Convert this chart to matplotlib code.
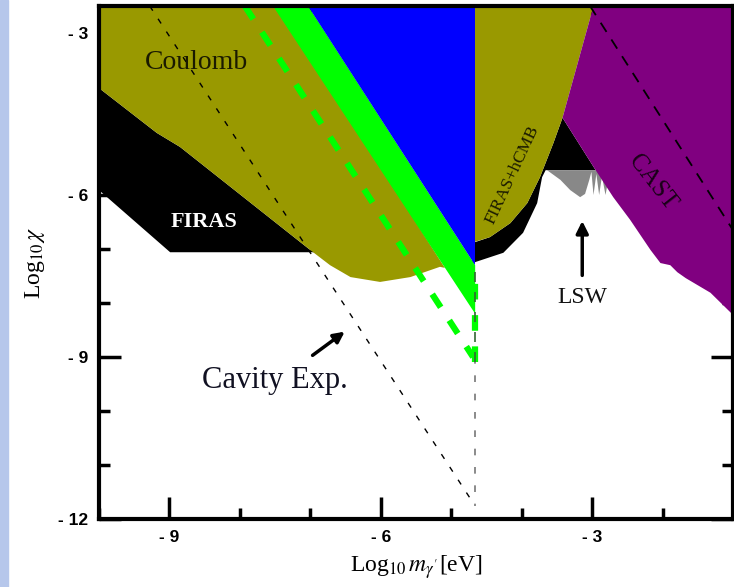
import matplotlib
matplotlib.use("Agg")
import matplotlib.pyplot as plt
from matplotlib.patches import Polygon, Rectangle

plt.rcParams['font.family'] = ['Liberation Serif', 'DejaVu Serif']
plt.rcParams['mathtext.fontset'] = 'stix'

# ---- data (log10 m [eV], log10 chi) ----
coulomb_x = [-10, -10, -9.18, -8.85, -7.00, -6.72, -6.43, -6.01, -5.58, -5.16, -5.09, -7.45]
coulomb_y = [-2.5, -4.02, -4.85, -5.11, -7.02, -7.30, -7.52, -7.61, -7.52, -7.33, -7.35, -2.5]

firas_x = [-10, -9.18, -8.85, -7.00, -6.6, -8.99, -10]
firas_y = [-4.02, -4.85, -5.11, -7.02, -7.06, -7.06, -5.91]

green_x = [-7.53, -7.03, -4.66, -4.66]
green_y = [-2.5, -2.5, -7.30, -8.20]

blue_x = [-7.03, -4.66, -4.66]
blue_y = [-2.5, -2.5, -7.30]

hcmb_x = [-4.72, -2.98, -3.42, -3.55, -3.74, -3.92, -4.16, -4.45, -4.72]
hcmb_y = [-2.5, -2.5, -4.57, -5.04, -5.67, -6.15, -6.52, -6.78, -6.89]

firas2_x = [-4.70, -4.45, -4.16, -3.92, -3.74, -3.55, -3.42, -2.95, -3.66, -3.71, -3.78, -3.98, -4.26, -4.70]
firas2_y = [-6.89, -6.78, -6.52, -6.15, -5.67, -5.04, -4.57, -5.54, -5.54, -5.67, -6.15, -6.70, -7.07, -7.26]

lsw_x = [-3.64, -3.45, -3.31, -3.17, -3.10, -3.04, -3.01, -2.98, -2.94, -2.90, -2.86, -2.81, -2.77, -2.74]
lsw_y = [-5.54, -5.72, -5.91, -6.04, -5.98, -5.72, -5.57, -6.00, -5.61, -6.00, -5.65, -6.00, -5.72, -5.54]

cast_x = [-2.98, -1.0, -1.0, -1.32, -1.67, -1.79, -1.89, -2.03, -2.17, -2.46, -2.70, -2.95, -3.42]
cast_y = [-2.5, -2.5, -8.22, -7.81, -7.54, -7.43, -7.30, -7.26, -7.02, -6.46, -6.04, -5.54, -4.57]

cast_dash_x = [-3.03, -1.0]
cast_dash_y = [-2.5, -6.65]

cavity_x = [-9.28, -4.69]
cavity_y = [-2.5, -11.7]
cavity_v_x = [-4.66, -4.66]
cavity_v_y = [-9.0, -11.75]

gdash_x = [-7.93, -4.69]
gdash_y = [-2.5, -9.0]
gdash_v_x = [-4.66, -4.66]
gdash_v_y = [-9.1, -7.4]

xticks_major = [-9, -6, -3]
yticks_major = [-12, -9, -6, -3]

fig = plt.figure(figsize=(7.34, 5.87), dpi=100)
fig.patches.append(Rectangle((0, 0), 8 / 734, 1, transform=fig.transFigure,
                             color='#b6c7eb', zorder=0))
ax = fig.add_axes([99 / 734, 68 / 587, 634 / 734, 513 / 587])
ax.set_xlim(-10, -1)
ax.set_ylim(-12, -2.5)


def poly(xs, ys, c, z):
    ax.add_patch(Polygon(list(zip(xs, ys)), closed=True, facecolor=c,
                         edgecolor='none', zorder=z))


poly(firas_x, firas_y, 'black', 1)
poly(coulomb_x, coulomb_y, '#999900', 2)
poly(green_x, green_y, '#00ff00', 3)
poly(blue_x, blue_y, '#0000ff', 3)
poly(firas2_x, firas2_y, 'black', 1)
poly(hcmb_x, hcmb_y, '#999900', 2)
poly(lsw_x, lsw_y, '#888888', 2)
poly(cast_x, cast_y, '#800080', 3)

ax.plot(cast_dash_x, cast_dash_y, color='black', lw=1.3, dashes=(6, 5), zorder=4)
ax.plot(cavity_x, cavity_y, color='black', lw=1.0, dashes=(4, 7), zorder=4)
ax.plot(cavity_v_x, cavity_v_y, color='#777777', lw=1.2, dashes=(4, 7), zorder=4)
ax.plot(gdash_x, gdash_y, color='#00ff00', lw=4.5, dashes=(2.5, 2.5), zorder=4)
ax.plot(gdash_v_x, gdash_v_y, color='#00ff00', lw=4.5, dashes=(2.5, 2.5), zorder=4)
ax.plot(gdash_v_x, gdash_v_y, color='#336633', lw=1.2, dashes=(6, 6), zorder=4)

ax.text(-8.61, -3.55, 'Coulomb', fontsize=20, color='#1a1a00', ha='center', va='center', zorder=5)
ax.text(-8.51, -6.5, 'FIRAS', fontsize=16, color='white', weight='bold', ha='center', va='center', zorder=5)
ax.text(-4.13, -5.63, 'FIRAS+hCMB', fontsize=12.5, color='#1a1a00', rotation=65,
        ha='center', va='center', zorder=5)
ax.text(-2.14, -5.76, 'CAST', fontsize=18, color='#1a0018', rotation=-52,
        ha='center', va='center', zorder=5)
ax.text(-3.14, -7.89, 'LSW', fontsize=17, color='#111111', ha='center', va='center', zorder=5)
ax.annotate('', xy=(-3.14, -6.43), xytext=(-3.14, -7.54),
            arrowprops=dict(arrowstyle='-|>', color='black', lw=2.5, mutation_scale=18), zorder=5)
ax.text(-7.5, -9.43, 'Cavity Exp.', fontsize=22, color='#111122', ha='center', va='center', zorder=5)
ax.annotate('', xy=(-6.48, -8.5), xytext=(-7.0, -9.0),
            arrowprops=dict(arrowstyle='-|>', color='black', lw=2.5, mutation_scale=16), zorder=5)

ax.set_xticks(xticks_major)
ax.set_yticks(yticks_major)
ax.set_xticks(range(-10, 0), minor=True)
ax.set_yticks(range(-12, -2), minor=True)
ax.set_xticklabels(['- %d' % abs(v) for v in xticks_major])
ax.set_yticklabels(['- %d' % abs(v) for v in yticks_major])
ax.tick_params(which='both', direction='in', top=True, right=True, width=2.5,
               labelsize=12.5, pad=8)
ax.tick_params(which='major', length=16)
ax.tick_params(which='minor', length=8)
for lab in ax.get_xticklabels() + ax.get_yticklabels():
    lab.set_family('Liberation Sans')
    lab.set_weight('bold')
for s in ax.spines.values():
    s.set_linewidth(3)
    s.set_zorder(6)

ax.set_xlabel(r"Log$_{10}\,m_{\gamma^{\prime}}$[eV]", fontsize=17, labelpad=6)
ax.set_ylabel(r'Log$_{10}\,\chi$', fontsize=17, labelpad=8)

fig.savefig('out.png', dpi=100)
